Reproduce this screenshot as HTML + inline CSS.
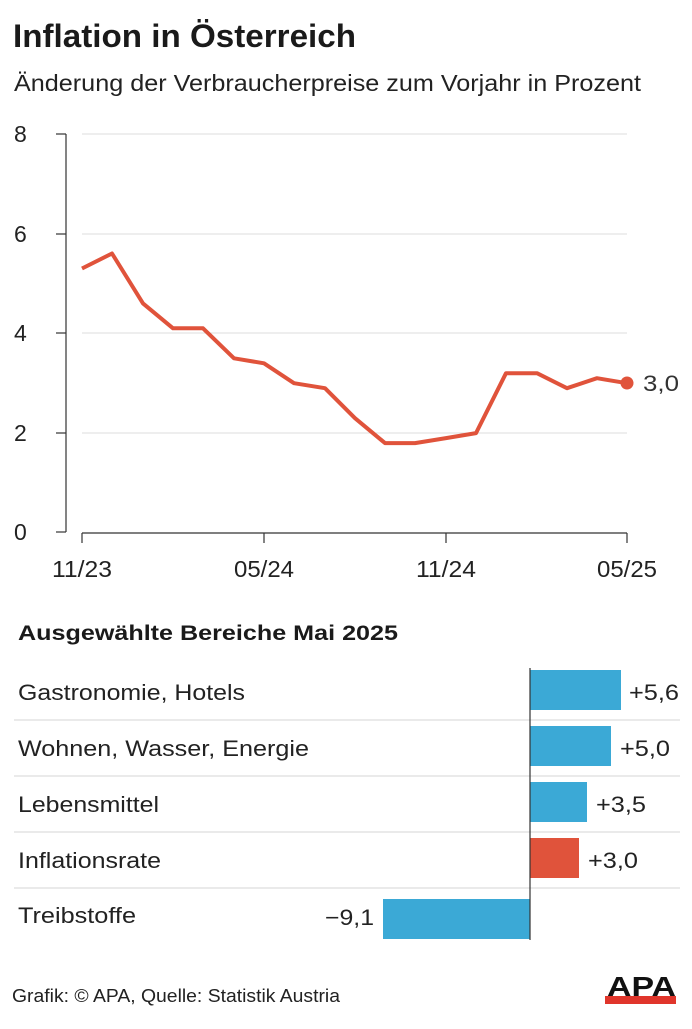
<!DOCTYPE html>
<html><head><meta charset="utf-8"><style>
body{margin:0;background:#fff;width:692px;height:1024px;overflow:hidden;font-family:"Liberation Sans",Arial,sans-serif;}
</style></head><body>
<svg width="692" height="1024" viewBox="0 0 692 1024" xmlns="http://www.w3.org/2000/svg" font-family="Liberation Sans, Arial, sans-serif">
<text x="13" y="47" font-size="32" font-weight="bold" fill="#1a1a1a" textLength="343" lengthAdjust="spacingAndGlyphs">Inflation in Österreich</text>
<text x="14" y="91" font-size="23" fill="#222" textLength="627" lengthAdjust="spacingAndGlyphs">Änderung der Verbraucherpreise zum Vorjahr in Prozent</text>
<g stroke="#ddd" stroke-width="1">
<line x1="82" y1="134" x2="627" y2="134"/><line x1="82" y1="234" x2="627" y2="234"/>
<line x1="82" y1="333" x2="627" y2="333"/><line x1="82" y1="433" x2="627" y2="433"/>
</g>
<g stroke="#333" stroke-width="1.2" fill="none">
<line x1="66" y1="134" x2="66" y2="532"/>
<line x1="56" y1="134" x2="66" y2="134"/><line x1="56" y1="234" x2="66" y2="234"/>
<line x1="56" y1="333" x2="66" y2="333"/><line x1="56" y1="433" x2="66" y2="433"/>
<line x1="56" y1="532" x2="66" y2="532"/>
<line x1="82" y1="533" x2="627" y2="533"/>
<line x1="82" y1="533" x2="82" y2="543"/><line x1="264" y1="533" x2="264" y2="543"/>
<line x1="446" y1="533" x2="446" y2="543"/><line x1="627" y1="533" x2="627" y2="543"/>
</g>
<g font-size="23" fill="#222">
<text x="14" y="142">8</text><text x="14" y="242">6</text><text x="14" y="341">4</text><text x="14" y="441">2</text><text x="14" y="540">0</text>
<text x="82" y="577" text-anchor="middle" textLength="60" lengthAdjust="spacingAndGlyphs">11/23</text>
<text x="264" y="577" text-anchor="middle" textLength="60" lengthAdjust="spacingAndGlyphs">05/24</text>
<text x="446" y="577" text-anchor="middle" textLength="60" lengthAdjust="spacingAndGlyphs">11/24</text>
<text x="627" y="577" text-anchor="middle" textLength="60" lengthAdjust="spacingAndGlyphs">05/25</text>
</g>
<polyline fill="none" stroke="#e0533b" stroke-width="4" stroke-linejoin="round" points="82,268.5 112,253.5 143,303.4 173,328.3 203,328.3 234,358.3 264,363.3 294,383.2 325,388.2 355,418.2 385,443.1 415,443.1 446,438.1 476,433.1 506,373.2 537,373.2 567,388.2 597,378.2 627,383.2"/>
<circle cx="627" cy="383" r="6.5" fill="#e0533b"/>
<text x="643" y="391" font-size="22" fill="#333" textLength="36" lengthAdjust="spacingAndGlyphs">3,0</text>
<text x="18" y="640" font-size="21" font-weight="bold" fill="#1a1a1a" textLength="380" lengthAdjust="spacingAndGlyphs">Ausgewählte Bereiche Mai 2025</text>
<g stroke="#ddd" stroke-width="1.2">
<line x1="14" y1="720" x2="680" y2="720"/><line x1="14" y1="776" x2="680" y2="776"/>
<line x1="14" y1="832" x2="680" y2="832"/><line x1="14" y1="888" x2="680" y2="888"/>
</g>
<g font-size="22" fill="#222">
<text x="18" y="700" textLength="227" lengthAdjust="spacingAndGlyphs">Gastronomie, Hotels</text>
<text x="18" y="756" textLength="291" lengthAdjust="spacingAndGlyphs">Wohnen, Wasser, Energie</text>
<text x="18" y="812" textLength="141" lengthAdjust="spacingAndGlyphs">Lebensmittel</text>
<text x="18" y="868" textLength="143" lengthAdjust="spacingAndGlyphs">Inflationsrate</text>
<text x="18" y="923" textLength="118" lengthAdjust="spacingAndGlyphs">Treibstoffe</text>
</g>
<rect x="530" y="670" width="91" height="40" fill="#3ba9d6"/>
<rect x="530" y="726" width="81" height="40" fill="#3ba9d6"/>
<rect x="530" y="782" width="57" height="40" fill="#3ba9d6"/>
<rect x="530" y="838" width="49" height="40" fill="#e0533b"/>
<rect x="383" y="899" width="147" height="40" fill="#3ba9d6"/>
<line x1="530" y1="668" x2="530" y2="940" stroke="#333" stroke-width="1.2"/>
<g font-size="22" fill="#222">
<text x="629" y="700" textLength="50" lengthAdjust="spacingAndGlyphs">+5,6</text>
<text x="620" y="756" textLength="50" lengthAdjust="spacingAndGlyphs">+5,0</text>
<text x="596" y="812" textLength="50" lengthAdjust="spacingAndGlyphs">+3,5</text>
<text x="588" y="868" textLength="50" lengthAdjust="spacingAndGlyphs">+3,0</text>
<text x="374" y="925" text-anchor="end" textLength="49" lengthAdjust="spacingAndGlyphs">−9,1</text>
</g>
<text x="12" y="1002" font-size="18" fill="#222" textLength="328" lengthAdjust="spacingAndGlyphs">Grafik: © APA, Quelle: Statistik Austria</text>
<rect x="605" y="996" width="71" height="8" fill="#e0352b"/>
<text x="607" y="996" font-size="28" font-weight="bold" fill="#111" textLength="69" lengthAdjust="spacingAndGlyphs">APA</text>
</svg>
</body></html>
